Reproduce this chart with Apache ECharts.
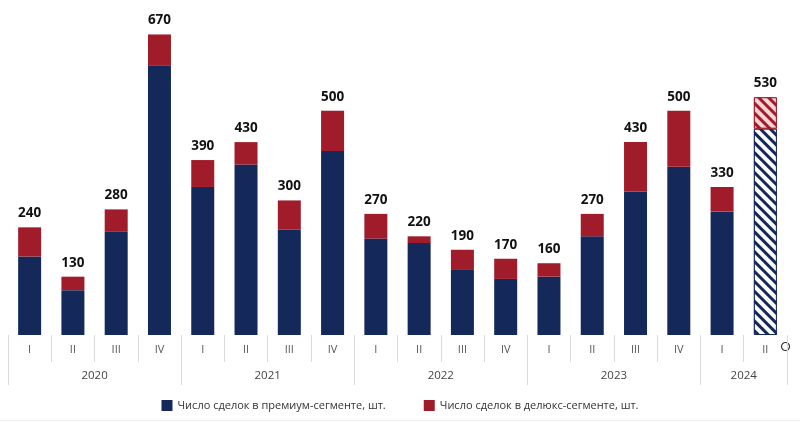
<!DOCTYPE html>
<html><head><meta charset="utf-8">
<script src="https://cdn.jsdelivr.net/npm/echarts@6/dist/echarts.min.js"></script>
<style>html,body{margin:0;padding:0;background:#fff}#c{width:800px;height:425px}</style>
</head><body><div id="c"></div>
<script>
const quarters = ['I','II','III','IV','I','II','III','IV','I','II','III','IV','I','II','III','IV','I','II'];
const years = ['2020','2021','2022','2023','2024'];
const yearQuarterCounts = [4,4,4,4,2];
const premium = [175,100,230,600,330,380,235,410,215,205,145,125,130,220,320,375,275,460];
const deluxe  = [65,30,50,70,60,50,65,90,55,15,45,45,30,50,110,125,55,70];
const seriesNames = ['Число сделок в премиум-сегменте, шт.','Число сделок в делюкс-сегменте, шт.'];
const forecastIndex = 17;

const NAVY = '#14295a', RED = '#a01c2b';
const font = 'Open Sans';

const yearAxisData = [];
const yearBoundaries = [], yearCentres = [];
let pos = 0;
yearBoundaries.push(0);
for (let i = 0; i < years.length; i++) {
  const n = yearQuarterCounts[i] * 2;
  yearCentres.push(pos + n / 2);
  pos += n;
  yearBoundaries.push(pos);
}
for (let k = 0; k <= pos; k++) yearAxisData.push('');
yearCentres.forEach((c, i) => yearAxisData[c] = years[i]);

const premData = premium.map((v, i) => i === forecastIndex ? {
  value: v,
  itemStyle: { color: '#ffffff', borderColor: NAVY, borderWidth: 1,
    decal: { symbol: 'rect', symbolSize: 1, dashArrayX: [1, 0], dashArrayY: [2.5, 3.5], rotation: Math.PI / 4, color: NAVY, backgroundColor: '#ffffff' } }
} : v);
const delData = deluxe.map((v, i) => i === forecastIndex ? {
  value: v,
  itemStyle: { color: '#f6c9cc', borderColor: RED, borderWidth: 1,
    decal: { symbol: 'rect', symbolSize: 1, dashArrayX: [1, 0], dashArrayY: [2.5, 3.5], rotation: Math.PI / 4, color: RED, backgroundColor: '#f8d3d6' } }
} : v);

const chart = echarts.init(document.getElementById('c'), null, { renderer: 'canvas' });
chart.setOption({
  animation: false,
  textStyle: { fontFamily: font },
  grid: { left: 8, right: 13, top: 21, bottom: 90 },
  legend: {
    bottom: 9, left: 'center', itemWidth: 11, itemHeight: 11, itemGap: 38,
    icon: 'rect',
    textStyle: { fontFamily: font, fontSize: 11, color: '#333' },
    data: seriesNames
  },
  xAxis: [{
    type: 'category', data: quarters, position: 'bottom',
    axisLine: { show: false },
    axisTick: { show: true, alignWithLabel: false, interval: 0, length: 27, lineStyle: { color: '#d9d9d9' } },
    axisLabel: { interval: 0, margin: 9, color: '#555', fontSize: 11, fontFamily: font }
  }, {
    type: 'category', data: yearAxisData, position: 'bottom', boundaryGap: false,
    axisLine: { show: false },
    axisTick: { show: true, length: 50, interval: (i) => yearBoundaries.includes(i), lineStyle: { color: '#d9d9d9' } },
    axisLabel: { interval: (i) => yearCentres.includes(i), margin: 35, color: '#444', fontSize: 11.5, fontFamily: font }
  }],
  yAxis: { type: 'value', min: 0, max: 700, show: false, splitLine: { show: false } },
  series: [{
    name: seriesNames[0], type: 'bar', stack: 's', barWidth: 23,
    itemStyle: { color: NAVY }, data: premData
  }, {
    name: seriesNames[1], type: 'bar', stack: 's', barWidth: 23,
    itemStyle: { color: RED }, data: delData,
    label: {
      show: true, position: 'top', distance: 7, color: '#111', fontWeight: 'bold', fontSize: 13.5, fontFamily: font,
      formatter: (p) => String(premium[p.dataIndex] + deluxe[p.dataIndex])
    }
  }],
  graphic: [{
    type: 'circle', right: 8, top: 340, shape: { r: 4 },
    style: { fill: 'none', stroke: '#333', lineWidth: 1.2 }
  }, {
    type: 'rect', left: 0, top: 420, shape: { width: 800, height: 1 },
    style: { fill: '#eeeeee' }
  }]
});
</script></body></html>
